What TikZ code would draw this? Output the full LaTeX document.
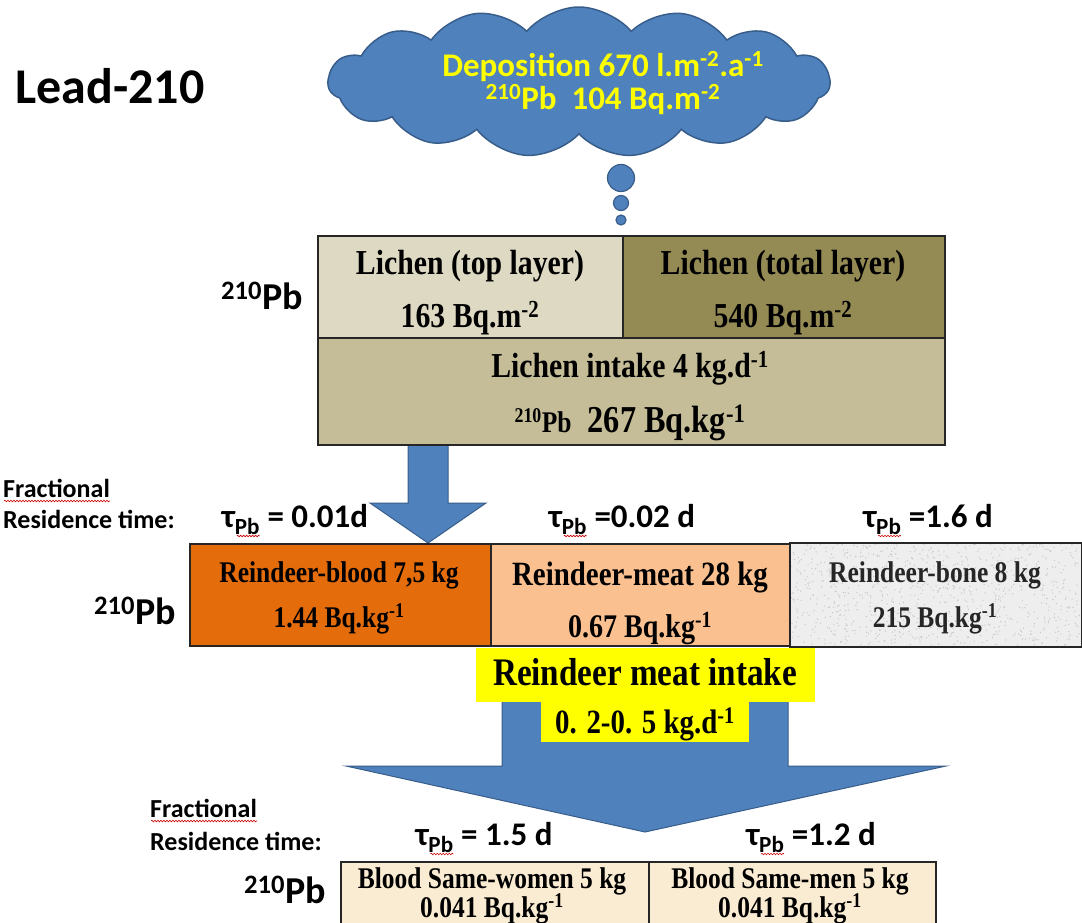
\documentclass[tikz,border=0pt]{standalone}
\usepackage{fontspec}
\setmainfont{Liberation Serif}[FakeStretch=0.85]
\newfontfamily\calfont{Carlito}
\usetikzlibrary{shapes.symbols,decorations.pathmorphing,calc}
\definecolor{cloudblue}{RGB}{79,129,189}
\definecolor{cloudedge}{RGB}{56,93,138}
\definecolor{lichenlight}{RGB}{221,217,195}
\definecolor{lichendark}{RGB}{148,138,84}
\definecolor{lichenmid}{RGB}{196,189,151}
\definecolor{bloodorange}{RGB}{228,108,10}
\definecolor{meatpeach}{RGB}{250,192,144}
\definecolor{bonegray}{RGB}{238,238,238}
\definecolor{humanbeige}{RGB}{250,236,210}
\definecolor{hiyellow}{RGB}{255,255,0}
\tikzset{
 cell/.style={draw=black!85, line width=2pt, inner sep=0pt, anchor=north west},
 serif/.style={font=\bfseries\fontsize{#1}{#1}\selectfont, inner sep=0pt, anchor=base},
 sans/.style={font=\calfont\bfseries\fontsize{#1}{#1}\selectfont, inner sep=0pt, anchor=base},
 blockarrow/.style={fill=cloudblue, draw=cloudedge, line width=1pt, line join=miter},
 squiggle/.style={draw=red!80!black, line width=0.6pt, decorate, decoration={snake, amplitude=0.8pt, segment length=3pt}},
 bubble/.style={circle, fill=cloudblue, draw=cloudedge, line width=1.2pt, inner sep=0pt},
}
\begin{document}
\begin{tikzpicture}[x=1pt,y=-1pt]
\useasboundingbox (0,0) rectangle (1082,922);

% title
\node[sans=50, anchor=base west] (title) at (15,103) {Lead-210};

% cloud
\node[cloud, cloud puffs=15, cloud puff arc=100, cloud ignores aspect, fill=cloudblue, draw=cloudedge, line width=1.5pt, minimum width=502pt, minimum height=150pt, inner sep=0pt] (cloud) at (579,82) {};
\node[sans=33, text=hiyellow] (dep1) at (603,76) {Deposition 670 l.m\textsuperscript{-2}.a\textsuperscript{-1}};
\node[sans=33, text=hiyellow] (dep2) at (603,109) {\textsuperscript{210}Pb\ \ 104 Bq.m\textsuperscript{-2}};
\node[bubble, minimum size=27pt] (b1) at (621,178) {};
\node[bubble, minimum size=15pt] (b2) at (621,203) {};
\node[bubble, minimum size=10pt] (b3) at (621,220) {};

% small arrow lichen -> reindeer
\path[blockarrow] (408,444) -- (448,444) -- (448,503) -- (486,503) -- (428,543) -- (370,503) -- (408,503) -- cycle;

% lichen block
\node[cell, fill=lichenlight, minimum width=305pt, minimum height=102pt] (ltop) at (317,235) {};
\node[cell, fill=lichendark, minimum width=322pt, minimum height=102pt] (ltot) at (622,235) {};
\node[cell, fill=lichenmid, minimum width=627pt, minimum height=107pt] (lint) at (317,337) {};
\node[serif=35] (ltopA) at (470,274) {Lichen (top layer)};
\node[serif=35] (ltopB) at (470,327) {163 Bq.m\textsuperscript{-2}};
\node[serif=35] (ltotA) at (783,274) {Lichen (total layer)};
\node[serif=35] (ltotB) at (783,327) {540 Bq.m\textsuperscript{-2}};
\node[serif=35] (lintA) at (630,377) {Lichen intake 4 kg.d\textsuperscript{-1}};
\node[serif=38] (lintB) at (630,432) {{\fontsize{30}{30}\selectfont\textsuperscript{210}Pb}\ \ 267 Bq.kg\textsuperscript{-1}};
\node[sans=38] (pb1) at (262,309) {\textsuperscript{210}Pb};

% reindeer row
\node[sans=26, anchor=base west] (frac1) at (3,497) {Fractional};
\node[sans=26, anchor=base west] (res1) at (3,528) {Residence time:};
\draw[squiggle] ($(frac1.base west)+(1,4)$) -- ($(frac1.base east)+(0,4)$);
\node[sans=33] (tau1) at (295,527) {τ\textsubscript{Pb} = 0.01d};
\node[sans=33] (tau2) at (622,527) {τ\textsubscript{Pb} =0.02 d};
\node[sans=33] (tau3) at (928,527) {τ\textsubscript{Pb} =1.6 d};
\foreach \t in {tau1,tau2,tau3}{
  \draw[squiggle] ($(\t.base west)+(15,9)$) -- ($(\t.base west)+(38,9)$);
}
\node[cell, fill=bloodorange, minimum width=301pt, minimum height=102pt] (blood) at (189,543) {};
\node[cell, fill=meatpeach, minimum width=300pt, minimum height=102pt] (meat) at (490,543) {};
\node[cell, draw=none, fill=bonegray, minimum width=290pt, minimum height=102pt] (bone) at (790,543) {};
\begin{scope}
\clip (bone.north west) rectangle (bone.south east);
\pgfmathsetseed{7}
\foreach \i in {1,...,900}{\fill[black!22] (790+290*rnd, 543+102*rnd) circle (0.7pt);}
\end{scope}
\draw[draw=black!85, line width=2pt] (bone.north west) rectangle (bone.south east);
\node[serif=30] (bloodA) at (339,582) {Reindeer-blood 7,5 kg};
\node[serif=30] (bloodB) at (339,627) {1.44 Bq.kg\textsuperscript{-1}};
\node[serif=34] (meatA) at (640,585) {Reindeer-meat 28 kg};
\node[serif=33] (meatB) at (640,637) {0.67 Bq.kg\textsuperscript{-1}};
\node[serif=30,text=black!85] (boneA) at (935,582) {Reindeer-bone 8 kg};
\node[serif=30,text=black!85] (boneB) at (935,627) {215 Bq.kg\textsuperscript{-1}};
\node[sans=38] (pb2) at (135,624) {\textsuperscript{210}Pb};

% big arrow meat intake -> humans
\path[blockarrow] (502,695) -- (788,695) -- (788,766) -- (946,766) -- (645,832) -- (346,766) -- (502,766) -- cycle;
\node[fill=hiyellow, minimum width=339pt, minimum height=54pt, anchor=north west, inner sep=0pt] (yel1) at (476,648) {};
\node[fill=hiyellow, minimum width=208pt, minimum height=41pt, anchor=north west, inner sep=0pt] (yel2) at (541,701) {};
\node[serif=39] (intakeA) at (645,685) {Reindeer meat intake};
\node[serif=34] (intakeB) at (645,733) {0. 2-0. 5 kg.d\textsuperscript{-1}};

% humans
\node[sans=26, anchor=base west] (frac2) at (150,817) {Fractional};
\node[sans=26, anchor=base west] (res2) at (150,850) {Residence time:};
\draw[squiggle] ($(frac2.base west)+(1,4)$) -- ($(frac2.base east)+(0,4)$);
\node[sans=33] (tau4) at (484,845) {τ\textsubscript{Pb} = 1.5 d};
\node[sans=33] (tau5) at (811,845) {τ\textsubscript{Pb} =1.2 d};
\foreach \t in {tau4,tau5}{
  \draw[squiggle] ($(\t.base west)+(15,9)$) -- ($(\t.base west)+(38,9)$);
}
\node[cell, fill=humanbeige, minimum width=308pt, minimum height=80pt] (women) at (340,861) {};
\node[cell, fill=humanbeige, minimum width=287pt, minimum height=80pt] (men) at (648,861) {};
\node[serif=30] (womenA) at (492,888) {Blood Same-women 5 kg};
\node[serif=30] (womenB) at (492,917) {0.041 Bq.kg\textsuperscript{-1}};
\node[serif=30] (menA) at (790,888) {Blood Same-men 5 kg};
\node[serif=30] (menB) at (790,917) {0.041 Bq.kg\textsuperscript{-1}};
\node[sans=38] (pb3) at (285,903) {\textsuperscript{210}Pb};
\end{tikzpicture}
\end{document}
